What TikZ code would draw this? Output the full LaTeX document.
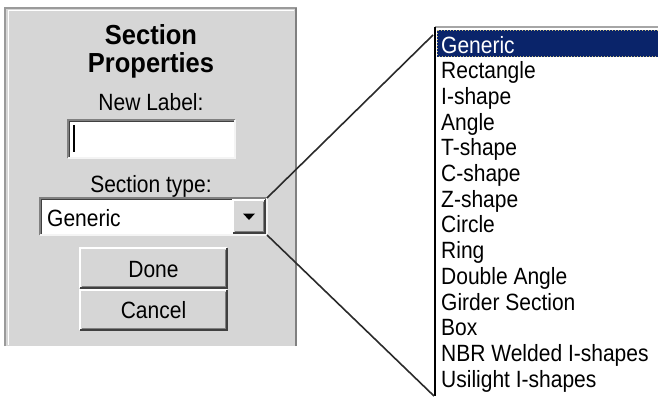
\documentclass[tikz,border=0pt]{standalone}
\usepackage{fontspec}
\setmainfont{Liberation Sans}
\usetikzlibrary{calc}
\definecolor{panelgray}{HTML}{D6D6D6}
\definecolor{shadowgray}{HTML}{808080}
\definecolor{darkedge}{HTML}{404040}
\definecolor{lightedge}{HTML}{F4F4F4}
\definecolor{selnavy}{HTML}{0A246A}
\definecolor{focusdot}{HTML}{C8BC78}
\definecolor{linkline}{HTML}{2A2A2A}

% screen-font look: glyphs a little taller than the outline font
\newcommand\tall[1]{\scalebox{1}[1.12]{#1}}

% sunken (inset) frame drawn along a node's border
\newcommand\sunkenframe[1]{%
  \draw[shadowgray,line width=1.2pt] (#1.south west) -- (#1.north west) -- (#1.north east);
  \draw[darkedge,line width=1.2pt] ($(#1.south west)+(1.5,-1.5)$) -- ($(#1.north west)+(1.5,1.5)$) -- ($(#1.north east)+(-1.5,1.5)$);
  \draw[lightedge,line width=1.2pt] (#1.south west) -- (#1.south east) -- (#1.north east);
}
% raised frame drawn along a node's border
\newcommand\raisedframe[1]{%
  \draw[white,line width=1.2pt] (#1.south west) -- (#1.north west) -- (#1.north east);
  \draw[darkedge,line width=1.4pt] (#1.south west) -- (#1.south east) -- (#1.north east);
  \draw[shadowgray,line width=1.2pt] ($(#1.south west)+(1.5,-1.5)$) -- ($(#1.south east)+(-1.5,-1.5)$) -- ($(#1.north east)+(-1.5,1.5)$);
}

\begin{document}
\begin{tikzpicture}[x=1pt,y=-1pt,
  box/.style={inner sep=0pt,outer sep=0pt,anchor=north west},
  uitext/.style={font=\fontsize{21}{21}\selectfont,inner sep=0pt},
  titletext/.style={font=\fontsize{25.5}{25.5}\selectfont\bfseries,inner sep=0pt,anchor=base},
  buttonbox/.style={box,fill=panelgray,minimum width=147pt,minimum height=40pt,uitext},
  itemtext/.style={uitext,anchor=base west},
  connector/.style={draw=linkline,line width=1.6pt}]
\useasboundingbox (0,0) rectangle (658,396);
\fill[white] (0,0) rectangle (658,396);

% dialog panel
\node[box,fill=panelgray,minimum width=292pt,minimum height=338pt] (panel) at (5,8) {};
\draw[shadowgray!80,line width=1.5pt] (panel.south west) -- (panel.north west) -- (panel.north east);
\draw[white,line width=1pt] ($(panel.south west)+(3,-1)$) -- ($(panel.north west)+(3,2.5)$) -- ($(panel.north east)+(-3,2.5)$);
\draw[shadowgray,line width=1.5pt] ($(panel.south east)+(-1,0)$) -- ($(panel.north east)+(-1,0)$);

\node[titletext] (title1) at (151,45) {\scalebox{1}[1.08]{Section}};
\node[titletext] (title2) at (151,73) {\scalebox{1}[1.08]{Properties}};
\node[uitext,anchor=base] (newlbl) at (151,110) {\tall{New Label:}};

% label entry field
\node[box,fill=white,minimum width=167pt,minimum height=38pt] (entry) at (68,120) {};
\sunkenframe{entry}
\draw[black,line width=1.5pt] ($(entry.north west)+(6,5)$) -- ($(entry.south west)+(6,-6)$);

\node[uitext,anchor=base] (typelbl) at (151,192) {\tall{Section type:}};

% section type combo box
\node[box,fill=white,minimum width=227pt,minimum height=37pt] (dd) at (40,198) {};
\sunkenframe{dd}
\node[uitext,anchor=base west] (ddtext) at (47,226) {\tall{Generic}};
\node[box,fill=panelgray,minimum width=32pt,minimum height=33pt] (ddbtn) at (233,200) {};
\raisedframe{ddbtn}
\fill[black] ($(ddbtn.center)+(-6,-3)$) -- ($(ddbtn.center)+(6,-3)$) -- ($(ddbtn.center)+(0,3.5)$) -- cycle;

% buttons
\node[buttonbox] (done) at (80,248) {};
\raisedframe{done}
\node[uitext,anchor=base] (donetext) at ($(done.center)+(0,9)$) {\tall{Done}};
\node[buttonbox] (cancel) at (80,290) {};
\raisedframe{cancel}
\node[uitext,anchor=base] (canceltext) at ($(cancel.center)+(0,8)$) {\tall{Cancel}};

% expanded list of section types
\node[box,fill=white,minimum width=223pt,minimum height=369pt] (list) at (435,27) {};
\draw[shadowgray!70,line width=1.5pt] (list.north west) -- (list.north east);
\draw[black,line width=1.4pt] (list.north west) -- (list.south west);
\node[box,fill=selnavy,minimum width=221pt,minimum height=27pt] (sel) at (437,30) {};
\draw[focusdot,dotted,line width=1pt] ($(sel.north west)+(0.5,0.5)$) rectangle ($(sel.south east)+(0,-0.5)$);

\node[itemtext,text=white] (item0) at (441,53) {\tall{Generic}};
\foreach \t [count=\i] in {Rectangle,I-shape,Angle,T-shape,C-shape,Z-shape,Circle,Ring,Double Angle,Girder Section,Box,NBR Welded I-shapes,Usilight I-shapes}
  \node[itemtext] (item\i) at (441,53+25.7*\i) {\tall{\t}};

% lines linking the combo box to its open list
\coordinate (listin) at ($(list.north west)+(-2,8)$);
\coordinate (listout) at ($(list.south west)+(-1,0)$);
\draw[connector] (dd.north east) -- (listin);
\draw[connector] (dd.south east) -- (listout);
\end{tikzpicture}
\end{document}
